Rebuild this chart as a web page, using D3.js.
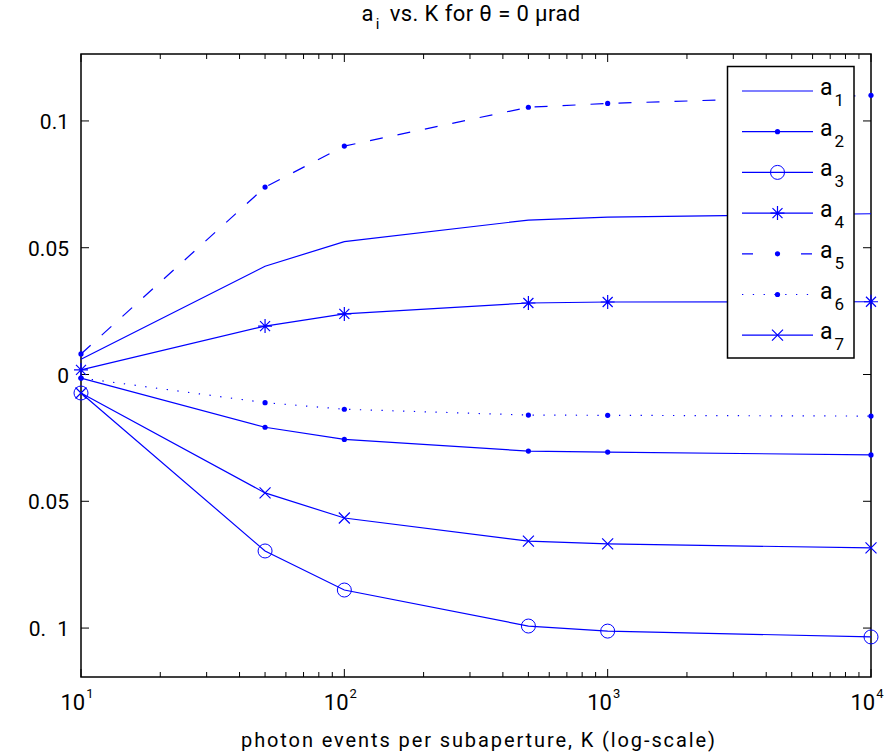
<!DOCTYPE html>
<html><head><meta charset="utf-8">
<script src="https://cdn.jsdelivr.net/npm/d3@7/dist/d3.min.js"></script>
<style>body{margin:0;background:#fff}svg{display:block}text{font-family:Roboto,"Noto Sans",sans-serif;fill:#000;white-space:pre}</style>
</head><body><svg id="c" width="892" height="756"></svg>
<script>
const K = [10, 50, 100, 500, 1000, 10000];
const a1 = [0.0060, 0.0427, 0.0524, 0.0609, 0.0621, 0.0634];
const a2 = [-0.0014, -0.0208, -0.0256, -0.0302, -0.0306, -0.0317];
const a3 = [-0.0073, -0.0696, -0.0850, -0.0992, -0.1012, -0.1035];
const a4 = [0.0018, 0.0191, 0.0239, 0.0282, 0.0286, 0.0287];
const a5 = [0.0081, 0.0739, 0.0901, 0.1054, 0.1069, 0.1101];
const a6 = [-0.0014, -0.0111, -0.0137, -0.0160, -0.0161, -0.0164];
const a7 = [-0.0073, -0.0467, -0.0566, -0.0657, -0.0668, -0.0684];
const seriesNames = ["1","2","3","4","5","6","7"];
const yTickValues = [0.1, 0.05, 0, -0.05, -0.1];
const yTickLabels = ["0.1", "0.05", "0", "0.05", "0. 1"];
const xTickValues = [10, 100, 1000, 10000];
const xTickExps = ["1", "2", "3", "4"];
const titleMain = "a", titleSub = "i", titleRest = " vs. K for \u03b8 = 0 \u00b5rad";
const xLabel = "photon events per subaperture, K (log-scale)";

const series = [
  {v:a1, dash:null, marker:"none"},
  {v:a2, dash:null, marker:"dot"},
  {v:a3, dash:null, marker:"circle"},
  {v:a4, dash:null, marker:"star"},
  {v:a5, dash:"13,15", marker:"dot"},
  {v:a6, dash:"1.3,9.5", marker:"dot"},
  {v:a7, dash:null, marker:"x"}
];
const blue = "#0000ff";
const L = 81, R = 871, T = 54, B = 677;
const svg = d3.select("#c");
const x = d3.scaleLog().domain([10, 10000]).range([L, R]);
const y = d3.scaleLinear().domain([-0.1193, 0.1264]).range([B, T]);

const tt = svg.append("text").attr("x", 471).attr("y", 21).attr("text-anchor","middle")
  .style("font-size","22px").style("letter-spacing","0.4px");
tt.append("tspan").text(titleMain);
tt.append("tspan").attr("dx",2).attr("dy", 8).style("font-size","15px").text(titleSub);
tt.append("tspan").attr("dx",4).attr("dy", -8).text(titleRest);

svg.append("rect").attr("x", L).attr("y", T).attr("width", R-L).attr("height", B-T)
  .attr("fill","none").attr("stroke","#000").attr("stroke-width",1.5);

const minor = [];
for (let d of [10,100,1000]) for (let m=2;m<=9;m++) minor.push(d*m);
const tg = svg.append("g").attr("stroke","#000").attr("stroke-width",1);
xTickValues.forEach(v => {
  tg.append("line").attr("x1",x(v)).attr("x2",x(v)).attr("y1",B).attr("y2",B-8);
  tg.append("line").attr("x1",x(v)).attr("x2",x(v)).attr("y1",T).attr("y2",T+8);
});
minor.forEach(v => {
  tg.append("line").attr("x1",x(v)).attr("x2",x(v)).attr("y1",B).attr("y2",B-5);
  tg.append("line").attr("x1",x(v)).attr("x2",x(v)).attr("y1",T).attr("y2",T+5);
});
yTickValues.forEach(v => {
  tg.append("line").attr("x1",L).attr("x2",L+8).attr("y1",y(v)).attr("y2",y(v));
  tg.append("line").attr("x1",R).attr("x2",R-8).attr("y1",y(v)).attr("y2",y(v));
});

yTickValues.forEach((v,i) => {
  svg.append("text").attr("x", L-12).attr("y", y(v)+8).attr("text-anchor","end")
    .style("font-size","21px").style("word-spacing","6px").text(yTickLabels[i]);
});
xTickValues.forEach((v,i) => {
  const t = svg.append("text").attr("x", x(v)-4).attr("y", 710).attr("text-anchor","middle").style("font-size","22px");
  t.append("tspan").text("10");
  t.append("tspan").attr("dx",1).attr("dy",-12).style("font-size","13px").text(xTickExps[i]);
});
svg.append("text").attr("x", 478).attr("y", 747).attr("text-anchor","middle").style("font-size","20px")
  .attr("textLength", 474).text(xLabel);

function drawMarker(g, type, cx, cy) {
  if (type === "dot") g.append("circle").attr("cx",cx).attr("cy",cy).attr("r",2.6).attr("fill",blue);
  else if (type === "circle") g.append("circle").attr("cx",cx).attr("cy",cy).attr("r",7).attr("fill","none").attr("stroke",blue).attr("stroke-width",1);
  else if (type === "x") {
    const s = 5.5;
    g.append("path").attr("d",`M${cx-s},${cy-s}L${cx+s},${cy+s}M${cx-s},${cy+s}L${cx+s},${cy-s}`).attr("stroke",blue).attr("stroke-width",1.2);
  } else if (type === "star") {
    const s = 7, d = 5;
    g.append("path").attr("d",`M${cx-s},${cy}L${cx+s},${cy}M${cx},${cy-s}L${cx},${cy+s}M${cx-d},${cy-d}L${cx+d},${cy+d}M${cx-d},${cy+d}L${cx+d},${cy-d}`).attr("stroke",blue).attr("stroke-width",1.2);
  }
}

const line = d3.line().x((d,i)=>x(K[i])).y(d=>y(d));
const pg = svg.append("g");
series.forEach(s => {
  pg.append("path").attr("d", line(s.v)).attr("fill","none").attr("stroke",blue).attr("stroke-width",1.2)
    .attr("stroke-dasharray", s.dash);
  if (s.marker !== "none") s.v.forEach((v,i) => drawMarker(pg, s.marker, x(K[i]), y(v)));
});

const lg = svg.append("g");
lg.append("rect").attr("x",727.5).attr("y",66.5).attr("width",126.5).attr("height",291.5)
  .attr("fill","#fff").attr("stroke","#000").attr("stroke-width",1.5);
series.forEach((s,i) => {
  const ly = 91 + i*40.7;
  lg.append("line").attr("x1",742).attr("x2",813).attr("y1",ly).attr("y2",ly)
    .attr("stroke",blue).attr("stroke-width",1.2).attr("stroke-dasharray", s.dash === "13,15" ? "11,48" : s.dash);
  if (s.marker !== "none") drawMarker(lg, s.marker, 777.5, ly);
  const t = lg.append("text").attr("x",820).attr("y",ly+4).style("font-size","23px");
  t.append("tspan").text("a");
  t.append("tspan").attr("dx",2).attr("dy",11).style("font-size","17px").text(seriesNames[i]);
});
</script>
</body></html>
